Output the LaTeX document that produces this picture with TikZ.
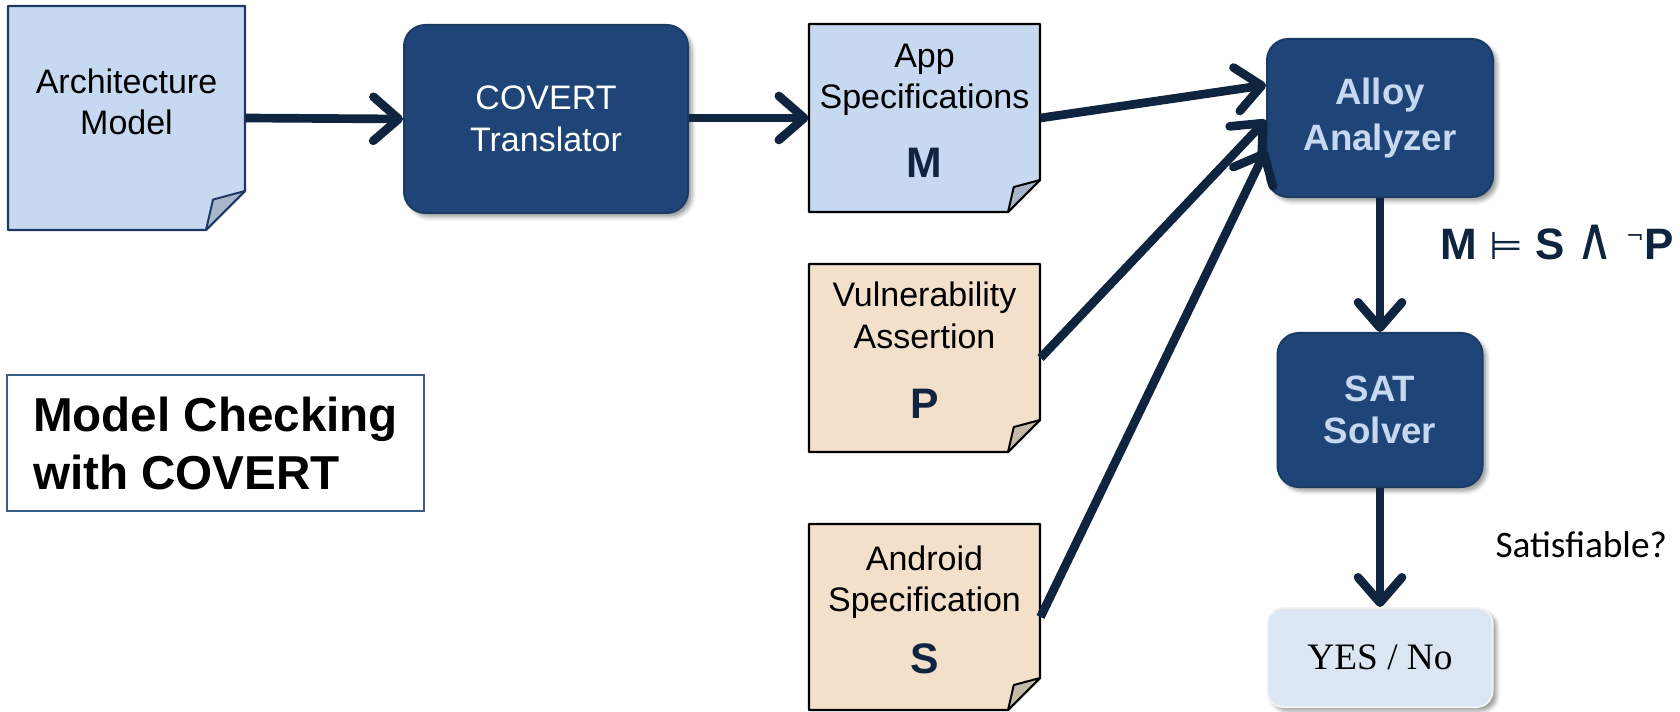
\documentclass[tikz,border=0pt]{standalone}
\usepackage{graphicx}
\usepackage{fontspec}
\setmainfont{Liberation Sans}
\newfontfamily\calibrifont{Carlito}
\newfontfamily\timesfont{Liberation Serif}
\newfontfamily\symbfont{DejaVu Sans}
\usetikzlibrary{arrows.meta,calc,shadows.blur}

\definecolor{boxnavy}{RGB}{31,69,120}
\definecolor{boxtext}{RGB}{198,217,241}
\definecolor{arrownavy}{RGB}{15,36,62}
\definecolor{docblue}{RGB}{198,217,241}
\definecolor{docline}{RGB}{31,56,100}
\definecolor{foldblue}{RGB}{167,182,201}
\definecolor{docpeach}{RGB}{242,224,203}
\definecolor{foldpeach}{RGB}{197,185,168}
\definecolor{yesfill}{RGB}{220,230,242}
\definecolor{titleline}{RGB}{56,93,138}

\tikzset{every picture/.style={line width=0.75pt}}
\tikzset{
  docnode/.style={align=center, inner sep=0pt, font=\fontsize{25.5}{31}\selectfont},
  darkbox/.style={rounded corners=16pt, fill=boxnavy, draw=boxnavy!85!black, line width=1.5pt,
    blur shadow={shadow xshift=3pt, shadow yshift=-3pt, shadow blur radius=3pt}},
  yesbox/.style={rounded corners=12pt, fill=yesfill, draw=white!90!gray, line width=1.5pt,
    blur shadow={shadow xshift=3pt, shadow yshift=-3pt, shadow blur radius=3pt}},
  titlebox/.style={draw=titleline, line width=1.5pt, align=left, inner sep=0pt,
    font=\fontsize{35.7}{43.5}\selectfont\bfseries},
  flowarrow/.style={draw=arrownavy, line width=6.5pt, -{Straight Barb[round,length=19pt,width=33pt]}}
}

\begin{document}
\begin{tikzpicture}[x=0.75pt,y=0.75pt,yscale=-1,xscale=1]
		\useasboundingbox (0,0) rectangle (1680,712);
		
		%Shape: documents with folded corner (left, top, right, bottom, fold)
		\foreach \l/\t/\r/\b/\f/\fc/\lc/\kc in {8/6/245/230/39/docblue/docline/foldblue, 809/24/1040/212/32/docblue/black/foldblue, 809/264/1040/452/32/docpeach/black/foldpeach, 809/524/1040/710/32/docpeach/black/foldpeach} {
			\draw [fill=\fc, draw=\lc, line width=1.8pt, line join=round] (\l,\t) -- (\r,\t) -- (\r,\b-\f) -- (\r-\f,\b) -- (\l,\b) -- cycle ;
			\draw [fill=\kc, draw=\lc, line width=1.5pt, line join=round] (\r,\b-\f) -- (\r-\f,\b) -- (\r-0.82*\f,\b-0.78*\f) -- cycle ;
		}
		
		\node [docnode, minimum width=177.75pt, minimum height=168pt] (arch) at (126.5,118) {Architecture\\Model\\[-7pt]\mbox{}};
		\node [docnode, minimum width=173.25pt, minimum height=141pt] (app) at (924.5,118) {App\\Specifications\\[21pt]{\fontsize{32}{38}\selectfont\bfseries\color{arrownavy}M}\\[-20pt]\mbox{}};
		\node [docnode, minimum width=173.25pt, minimum height=141pt] (vul) at (924.5,358) {Vulnerability\\Assertion\\[22pt]{\fontsize{32}{38}\selectfont\bfseries\color{arrownavy}P}\\[-20pt]\mbox{}};
		\node [docnode, minimum width=173.25pt, minimum height=139.5pt] (andr) at (924.5,617) {Android\\Specification\\[15pt]{\fontsize{32}{38}\selectfont\bfseries\color{arrownavy}S}\\[-20pt]\mbox{}};
		
		%Processing boxes
		\node [darkbox, minimum width=213pt, minimum height=141pt, text=white, align=center, font=\fontsize{25.5}{31.5}\selectfont] (covert) at (546,119) {COVERT\\Translator};
		\node [darkbox, minimum width=169.5pt, minimum height=118.5pt, text=boxtext, align=center, font=\fontsize{27.5}{34}\selectfont\bfseries] (alloy) at (1380,118) {Alloy\\Analyzer};
		\node [darkbox, minimum width=153.75pt, minimum height=115.5pt, text=boxtext, align=center, font=\fontsize{27.5}{32}\selectfont\bfseries] (sat) at (1380,410) {SAT\\Solver};
		\node [yesbox, minimum width=168.75pt, minimum height=74.25pt, font=\fontsize{28}{34}\timesfont] (yes) at (1380,657.5) {YES / No};
		
		%Title
		\node [titlebox, minimum width=312.75pt, minimum height=102pt] (title) at (215.5,443) {Model Checking\\with COVERT};
		
		%Labels
		\node [anchor=west, inner sep=0pt, text=arrownavy, font=\fontsize{33}{40}\selectfont\bfseries] (formula) at (1440,243) {M {\symbfont\mdseries\fontsize{29}{34}\selectfont ⊨} S {\symbfont\mdseries\scalebox{1.15}[1.35]{∧}} {\symbfont\mdseries\fontsize{16}{20}\selectfont\raisebox{12pt}{¬}}P};
		\node [anchor=west, inner sep=0pt, font=\fontsize{28}{34}\calibrifont] (satq) at (1495,545) {Satisfiable?};
		
		%Connectors
		\draw [flowarrow] (arch.east) -- (covert.west) ;
		\draw [flowarrow] (covert.east |- app.west) -- (app.west) ;
		\draw [flowarrow] (app.east) -- ($(alloy.west)+(0,-33)$) ;
		\draw [flowarrow] (vul.east) -- ($(alloy.west)+(0,2)$) ;
		\draw [flowarrow] (andr.east) -- ($(alloy.west)+(0,32)$) ;
		\draw [flowarrow] (alloy.south) -- (sat.north) ;
		\draw [flowarrow] (sat.south) -- (yes.north) ;
		
	\end{tikzpicture}
\end{document}
